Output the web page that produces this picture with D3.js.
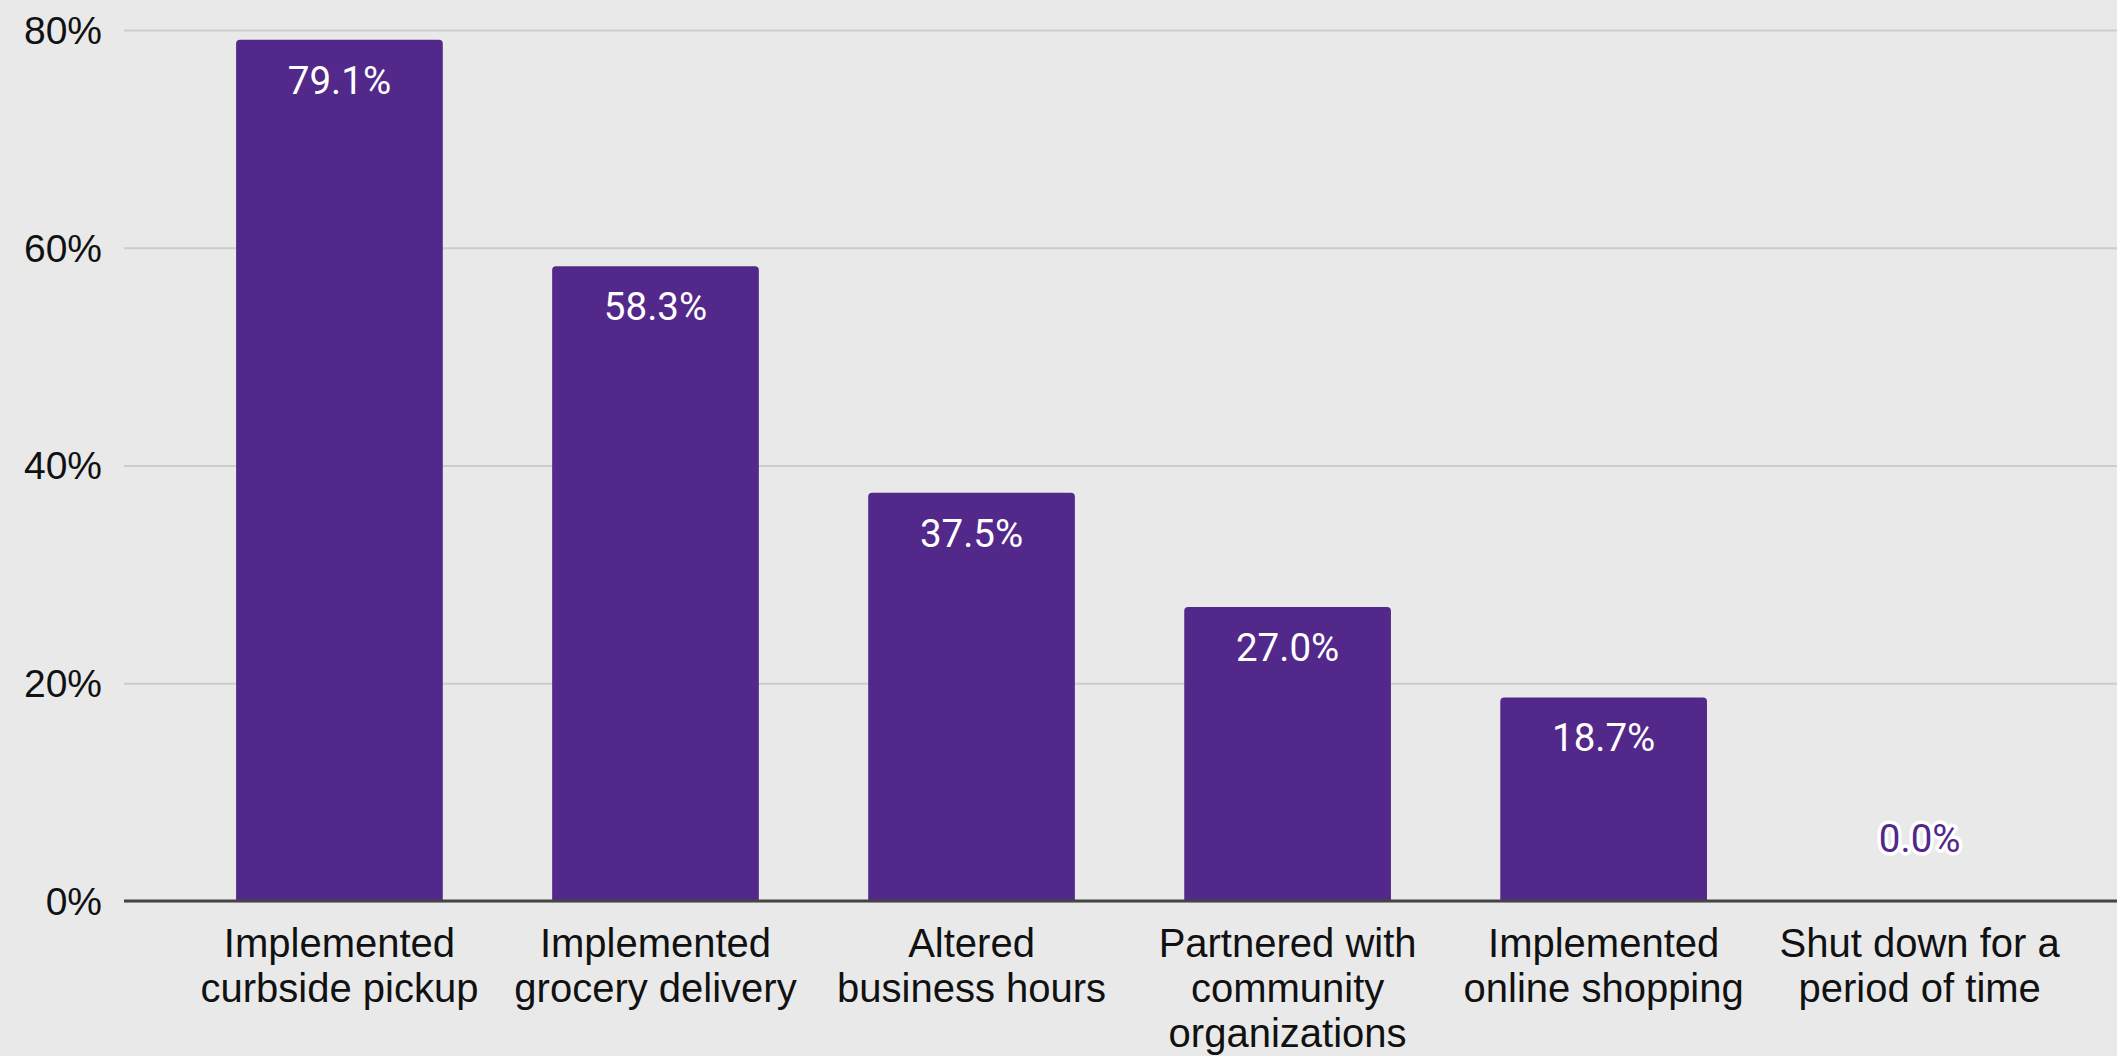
<!DOCTYPE html>
<html>
<head>
<meta charset="utf-8">
<script src="https://cdn.jsdelivr.net/npm/d3@7/dist/d3.min.js"></script>
<style>
  html, body { margin: 0; padding: 0; background: #e9e9e9; overflow: hidden; }
  svg { display: block; }
</style>
</head>
<body>
<svg id="chart" width="2117" height="1056"></svg>
<script>
// Share of stores that made each change
const categories = [
  "Implemented curbside pickup",
  "Implemented grocery delivery",
  "Altered business hours",
  "Partnered with community organizations",
  "Implemented online shopping",
  "Shut down for a period of time"
];
const categoryLines = [
  ["Implemented", "curbside pickup"],
  ["Implemented", "grocery delivery"],
  ["Altered", "business hours"],
  ["Partnered with", "community", "organizations"],
  ["Implemented", "online shopping"],
  ["Shut down for a", "period of time"]
];
const values = [79.1, 58.3, 37.5, 27.0, 18.7, 0.0];
const yTicks = [0, 20, 40, 60, 80];

const W = 2117, H = 1056;
const plotLeft = 124, plotRight = W, plotTop = 30, plotBottom = 901;
const barColor = "#52288a";

const svg = d3.select("#chart");
svg.append("rect").attr("width", W).attr("height", H).attr("fill", "#e9e9e9");

const x = d3.scaleBand()
  .domain(categories)
  .range([plotLeft, plotRight])
  .paddingInner(0.346)
  .paddingOuter(0.326)
  .align(0.544);

const y = d3.scaleLinear().domain([0, 80]).range([plotBottom, plotTop]);

// Gridlines and percentage ticks
const yAxis = svg.append("g")
  .attr("transform", `translate(${plotLeft},0)`)
  .call(d3.axisLeft(y)
    .tickValues(yTicks)
    .tickFormat(d => d + "%")
    .tickSize(-(plotRight - plotLeft))
    .tickPadding(22));
yAxis.select(".domain").remove();
yAxis.selectAll(".tick line")
  .attr("stroke", "#cccccc")
  .attr("stroke-width", 2);
yAxis.selectAll(".tick text")
  .attr("fill", "#111")
  .attr("font-family", "'Liberation Sans', Arial, sans-serif")
  .attr("font-size", 39)
  .attr("dy", "0.34em");

// Bars with slightly rounded top corners
function barPath(x0, w, yTop, yBase, r) {
  const h = yBase - yTop;
  if (h <= 0) return "";
  r = Math.min(r, h, w / 2);
  return `M${x0},${yBase}V${yTop + r}Q${x0},${yTop} ${x0 + r},${yTop}` +
         `H${x0 + w - r}Q${x0 + w},${yTop} ${x0 + w},${yTop + r}V${yBase}Z`;
}

const data = categories.map((c, i) => ({ cat: c, value: values[i], lines: categoryLines[i] }));

svg.append("g").selectAll("path")
  .data(data)
  .join("path")
  .attr("d", d => barPath(x(d.cat), x.bandwidth(), y(d.value), y(0), 4))
  .attr("fill", barColor);

// Baseline
svg.append("line")
  .attr("x1", plotLeft).attr("x2", plotRight)
  .attr("y1", y(0)).attr("y2", y(0))
  .attr("stroke", "#444")
  .attr("stroke-width", 3);

// Value labels: inside the bar top, or above the baseline when the bar is empty
const labels = svg.append("g")
  .attr("font-family", "Roboto, sans-serif")
  .attr("font-size", 38.5)
  .attr("text-anchor", "middle");

labels.selectAll("text")
  .data(data)
  .join("text")
  .attr("x", d => x(d.cat) + x.bandwidth() / 2)
  .attr("y", d => d.value > 5 ? y(d.value) + 54 : y(0) - 49)
  .attr("fill", d => d.value > 5 ? "#ffffff" : barColor)
  .attr("stroke", d => d.value > 5 ? "none" : "#ffffff")
  .attr("stroke-width", d => d.value > 5 ? 0 : 7)
  .attr("stroke-linejoin", "round")
  .attr("paint-order", "stroke")
  .text(d => d.value.toFixed(1) + "%");

// Category labels
const cats = svg.append("g")
  .attr("font-family", "'Liberation Sans', Arial, sans-serif")
  .attr("font-size", 40)
  .attr("fill", "#111")
  .attr("text-anchor", "middle");

cats.selectAll("text")
  .data(data)
  .join("text")
  .attr("x", d => x(d.cat) + x.bandwidth() / 2)
  .attr("y", y(0) + 56)
  .each(function (d) {
    const t = d3.select(this);
    d.lines.forEach((ln, i) => {
      t.append("tspan")
        .attr("x", x(d.cat) + x.bandwidth() / 2)
        .attr("dy", i === 0 ? 0 : 45)
        .text(ln);
    });
  });
</script>
</body>
</html>
